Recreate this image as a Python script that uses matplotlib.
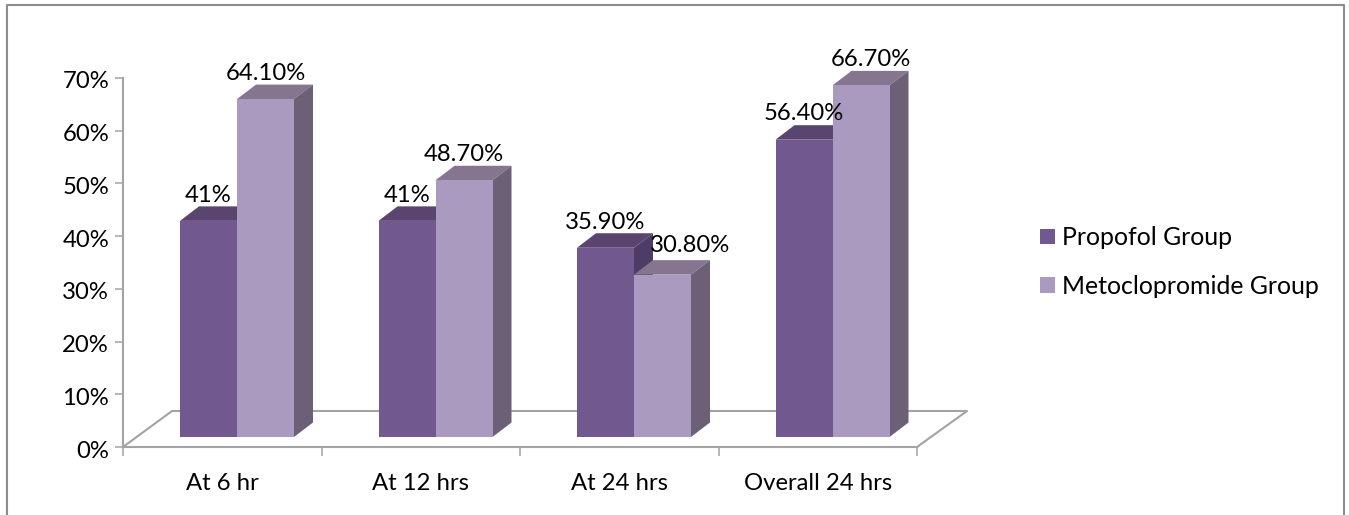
import matplotlib
matplotlib.use('Agg')
import matplotlib.pyplot as plt
from matplotlib.patches import Patch, Polygon
from matplotlib.lines import Line2D
from matplotlib.transforms import ScaledTranslation
import numpy as np

categories = ['At 6 hr', 'At 12 hrs', 'At 24 hrs', 'Overall 24 hrs']
propofol = [41, 41, 35.9, 56.4]
metoclopromide = [64.1, 48.7, 30.8, 66.7]
propofol_labels = ['41%', '41%', '35.90%', '56.40%']
metoclopromide_labels = ['64.10%', '48.70%', '30.80%', '66.70%']
y_ticks = [0, 10, 20, 30, 40, 50, 60, 70]

plt.rcParams['font.family'] = ['Lato', 'DejaVu Sans']

W, H = 1349, 515
GREY = '#a3a3a3'
FONT = 17.2

fig = plt.figure(figsize=(W / 100, H / 100), dpi=100)
ax = fig.add_axes([123 / W, 1 - 447 / H, (917 - 123) / W, (447 - 78) / H])
ax.set_xlim(0, 4)
ax.set_ylim(0, 70)

# pixel sizes turned into data units
px_x = 4 / (917 - 123)
px_y = 70 / (447 - 78)
bar_w = 57 * px_x
gap = 57 * px_x
base = 10 * px_y
dx = 19 * px_x
dy = 14.5 * px_y

# border of the chart area (bottom is cut off in the original)
fig.add_artist(Line2D([7 / W, 7 / W, 1344 / W, 1344 / W], [0, 1 - 5 / H, 1 - 5 / H, 0],
                      color='#8c8c8c', lw=1.5))

# floor of the 3d box
floor_x = [0, 49 * px_x, 4 + 50 * px_x, 4]
floor_y = [0, 36 * px_y, 36 * px_y, 0]
ax.plot(floor_x, floor_y, color=GREY, lw=1.5, clip_on=False, zorder=1)


def bar3d(left, value, front, top, side, z):
    ax.bar(left, value, width=bar_w, bottom=base, align='edge', color=front,
           edgecolor='none', zorder=z + 0.2)
    right = left + bar_w
    high = base + value
    ax.add_patch(Polygon([(left, high), (left + dx, high + dy), (right + dx, high + dy), (right, high)],
                         facecolor=top, edgecolor='none', zorder=z, clip_on=False))
    ax.add_patch(Polygon([(right, base), (right + dx, base + dy), (right + dx, high + dy), (right, high)],
                         facecolor=side, edgecolor='none', zorder=z, clip_on=False))


for i in range(len(categories)):
    left = i + gap
    bar3d(left, propofol[i], '#71588f', '#59456f', '#4d3c66', 2)
    bar3d(left + bar_w, metoclopromide[i], '#aa9abf', '#85758f', '#6b6075', 3)

# labels, Metoclopromide at 24 hrs and Overall 24 hrs were moved by hand in the original
nudge = {2: 28, 3: 10}
for i in range(len(categories)):
    left = i + gap
    ax.annotate(propofol_labels[i], (left + bar_w / 2, base + propofol[i]), xytext=(0, 18.5),
                textcoords='offset points', ha='center', va='center', fontsize=FONT,
                color='black', zorder=6, annotation_clip=False)
    ax.annotate(metoclopromide_labels[i], (left + 1.5 * bar_w, base + metoclopromide[i]),
                xytext=(nudge.get(i, 0) * 0.72, 18.5 + (2.5 if i == 2 else 0)),
                textcoords='offset points', ha='center', va='center', fontsize=FONT,
                color='black', zorder=6, annotation_clip=False)

# axes
for name in ['top', 'right']:
    ax.spines[name].set_visible(False)
for name in ['left', 'bottom']:
    ax.spines[name].set_color(GREY)
    ax.spines[name].set_linewidth(1.5)
    ax.spines[name].set_zorder(5)
ax.patch.set_alpha(0)

ax.set_yticks(y_ticks)
ax.set_yticklabels([f'{t}%' for t in y_ticks], fontsize=FONT)
ax.set_xticks(np.arange(5))
ax.set_xticklabels([])
ax.set_xticks(np.arange(4) + 0.5, minor=True)
ax.set_xticklabels(categories, minor=True, fontsize=FONT)
ax.tick_params(axis='y', length=5.8, width=1.1, color=GREY, pad=3.5)
ax.tick_params(axis='x', which='major', length=6.5, width=1.1, color=GREY)
ax.tick_params(axis='x', which='minor', length=0, pad=18.7)

# y labels sit a little under their ticks in the original
shift = ScaledTranslation(-1 / 100, -2 / 100, fig.dpi_scale_trans)
for lab in ax.get_yticklabels():
    lab.set_transform(lab.get_transform() + shift)

handles = [Patch(facecolor='#71588f', label='Propofol Group'),
           Patch(facecolor='#aa9abf', label='Metoclopromide Group')]
fig.legend(handles=handles, loc='center left', bbox_to_anchor=(1036 / W, 1 - 262 / H),
           frameon=False, fontsize=17.9, handlelength=0.6, handleheight=0.6,
           handletextpad=0.28, labelspacing=1.03, borderaxespad=0, borderpad=0.15)

fig.savefig('out.png', dpi=100, facecolor='white')
